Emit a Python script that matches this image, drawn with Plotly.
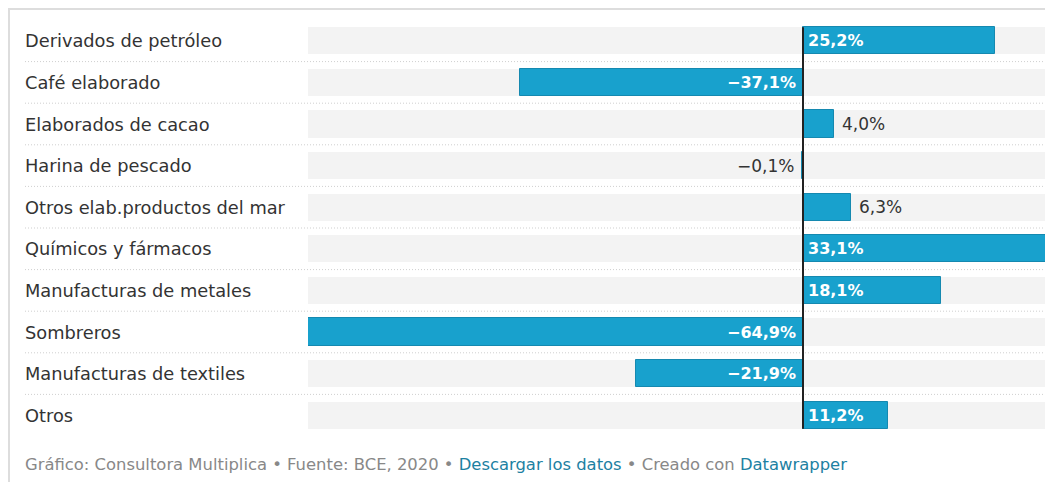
import plotly.graph_objects as go

categories = [
    "Derivados de petróleo",
    "Café elaborado",
    "Elaborados de cacao",
    "Harina de pescado",
    "Otros elab.productos del mar",
    "Químicos y fármacos",
    "Manufacturas de metales",
    "Sombreros",
    "Manufacturas de textiles",
    "Otros",
]
values = [25.2, -37.1, 4.0, -0.1, 6.3, 33.1, 18.1, -64.9, -21.9, 11.2]

footer_parts = ["Gráfico: Consultora Multiplica", "Fuente: BCE, 2020"]
footer_links = ["Descargar los datos", "Datawrapper"]

# page has an 8px body margin; figure sized so the page fits the window exactly
OFF = 8
W, H = 1053 - 2 * OFF, 490 - 2 * OFF
L, R, T = 308 - OFF, 0, 20 - OFF
B = H - (436 - OFF)
PW, PH = W - L - R, H - T - B
ZERO_PX = 803  # page x of the zero line in the reference layout

def px_x(px):  # px in reference-page coordinates
    return (px - OFF - L) / PW

def px_y(py):
    return 1 - (py - OFF - T) / PH

BLUE = "#18a1cd"
BLUE_EDGE = "#1589b0"
BG = "#f3f3f3"
FONT = "DejaVu Sans"

vmin, vmax = min(values), max(values)
x_hi = vmin + PW * (0 - vmin) / (ZERO_PX - 308)
idx = list(range(len(categories)))

def fmt(v):
    s = f"{abs(v):.1f}".replace(".", ",") + "%"
    return ("\u2212" + s) if v < 0 else s

fig = go.Figure()
fig.add_trace(go.Bar(
    y=idx, x=[vmax - vmin] * len(idx), base=[vmin] * len(idx),
    orientation="h", marker=dict(color=BG, line=dict(width=0)),
    width=0.65, hoverinfo="skip", showlegend=False,
))
fig.add_trace(go.Bar(
    y=idx, x=values, orientation="h",
    marker=dict(color=BLUE, line=dict(color=BLUE_EDGE, width=1)),
    width=0.65, showlegend=False,
))

annotations = []
for i, (c, v) in enumerate(zip(categories, values)):
    annotations.append(dict(
        x=px_x(23), xref="paper", y=i, yref="y", text=c, showarrow=False,
        xanchor="left", yanchor="middle",
        font=dict(family=FONT, size=17.8, color="#333333"),
    ))
    inside = abs(v) >= 10
    if inside:
        annotations.append(dict(x=0, y=i, xref="x", yref="y", text=fmt(v),
                                showarrow=False,
                                xanchor="left" if v > 0 else "right",
                                xshift=3 if v > 0 else -5,
                                font=dict(family=FONT, size=16, color="white", weight="bold")))
    else:
        annotations.append(dict(x=v, y=i, xref="x", yref="y", text=fmt(v),
                                showarrow=False,
                                xanchor="left" if v > 0 else "right",
                                xshift=6 if v > 0 else -6,
                                font=dict(family=FONT, size=17, color="#333333")))

link = "<span style='color:#1d81a2'>{}</span>"
footer = (f"{footer_parts[0]} \u2022 {footer_parts[1]} \u2022 "
          f"{link.format(footer_links[0])} \u2022 Creado con {link.format(footer_links[1])}")
annotations.append(dict(x=px_x(23), xref="paper", y=px_y(464), yref="paper",
                        text=footer, showarrow=False, xanchor="left", yanchor="middle",
                        font=dict(family=FONT, size=16.4, color="#888888")))

shapes = []
for i in range(len(categories) - 1):
    shapes.append(dict(type="line", xref="paper", yref="y",
                       x0=px_x(25), x1=1, y0=i + 0.5, y1=i + 0.5,
                       line=dict(color="#cfcfcf", width=1, dash="1px,2px"), layer="below"))
shapes.append(dict(type="line", xref="x", yref="y", x0=0, x1=0,
                   y0=-0.325, y1=len(categories) - 1 + 0.325,
                   line=dict(color="#222222", width=2)))
# frame border (top and left)
shapes.append(dict(type="line", xref="paper", yref="paper",
                   x0=px_x(8), x1=1, y0=px_y(9), y1=px_y(9),
                   line=dict(color="#dddddd", width=2)))
shapes.append(dict(type="line", xref="paper", yref="paper",
                   x0=px_x(9), x1=px_x(9), y0=px_y(9), y1=px_y(490),
                   line=dict(color="#dddddd", width=2)))

fig.update_layout(
    width=W, height=H,
    margin=dict(l=L, r=R, t=T, b=B),
    paper_bgcolor="white", plot_bgcolor="white",
    barmode="overlay", bargap=0,
    xaxis=dict(range=[vmin, x_hi], visible=False, fixedrange=True),
    yaxis=dict(range=[len(categories) - 0.5, -0.5], visible=False, fixedrange=True),
    annotations=annotations, shapes=shapes,
    font=dict(family=FONT),
)

fig.write_html("out.html", config={"displayModeBar": False})
